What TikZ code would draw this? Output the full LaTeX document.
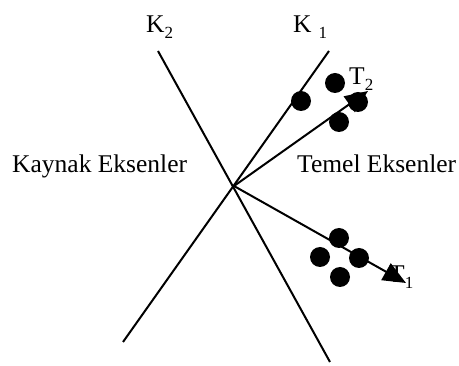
\documentclass[tikz,border=0pt]{standalone}
\usepackage{fontspec}
\setmainfont{Liberation Serif}
\usetikzlibrary{arrows.meta}
\newcommand{\sub}[1]{\raisebox{-0.22em}{\fontsize{17}{20}\selectfont #1}}
\begin{document}
\begin{tikzpicture}[x=1pt,y=-1pt,
  axis/.style={line width=2pt},
  dot/.style={circle,fill=black,inner sep=0pt,minimum size=20pt},
  lbl/.style={inner sep=0pt,anchor=base west,font=\fontsize{25.5}{30}\selectfont},
  tip/.style={-{Triangle[length=23pt,width=19pt]}}]
\useasboundingbox (0,0) rectangle (459,366);
\coordinate (O) at (234,186);
\coordinate (K1a) at (329,51);
\coordinate (K1b) at (123,342);
\coordinate (K2a) at (158,51);
\coordinate (K2b) at (330,362);
\coordinate (T1) at (406,283);
\coordinate (T2) at (368,91);
\draw[axis] (K1a) -- (K1b);
\draw[axis] (K2a) -- (K2b);
\draw[axis,tip] (O) -- (T1);
\draw[axis,tip] (O) -- (T2);
% dots
\node[dot] (d1) at (301,101) {};
\node[dot] (d2) at (335,83) {};
\node[dot] (d3) at (358,102) {};
\node[dot] (d4) at (339,122) {};
\node[dot] (d5) at (339,238) {};
\node[dot] (d6) at (320,257) {};
\node[dot] (d7) at (359,258) {};
\node[dot] (d8) at (340,277) {};
% labels
\node[lbl] (lk2) at (146,33) {K\sub{2}};
\node[lbl] (lk1) at (293,33) {K\hspace{7pt}\sub{1}};
\node[lbl] (lt2) at (349,85) {T\sub{2}};
\node[lbl] (lt1) at (389,283) {T\sub{1}};
\node[lbl] (lka) at (12,173) {Kaynak Eksenler};
\node[lbl] (lte) at (297,173) {Temel Eksenler};
\end{tikzpicture}
\end{document}
